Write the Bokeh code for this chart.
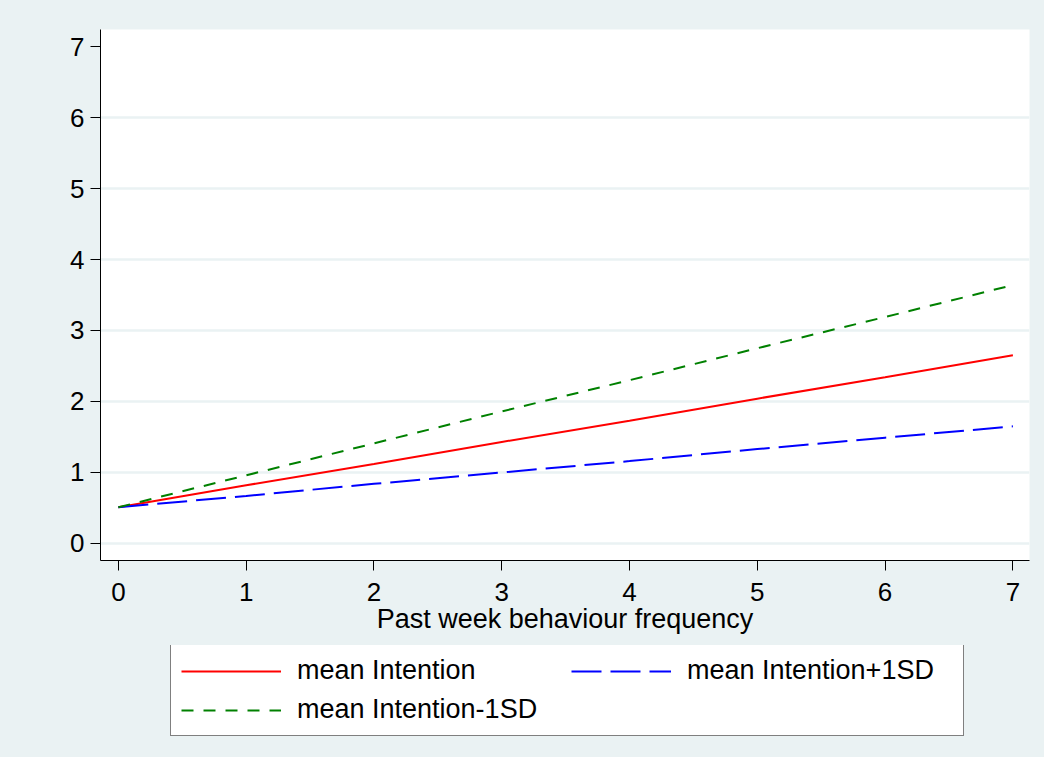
from bokeh.plotting import figure
from bokeh.models import Range1d, FixedTicker, Legend, LegendItem
from bokeh.layouts import column
from bokeh.embed import file_html
from bokeh.resources import INLINE

# Data
x_vals = [0, 1, 2, 3, 4, 5, 6, 7]
mean_int = [0.51, 0.82, 1.12, 1.43, 1.73, 2.04, 2.34, 2.65]
mean_int_plus = [0.51, 0.67, 0.84, 1.00, 1.16, 1.33, 1.49, 1.65]
mean_int_minus = [0.51, 0.96, 1.41, 1.86, 2.30, 2.75, 3.19, 3.64]
x_ticks = [0, 1, 2, 3, 4, 5, 6, 7]
y_ticks = [0, 1, 2, 3, 4, 5, 6, 7]
grid_ticks = [0, 1, 2, 3, 4, 5, 6]
x_title = "Past week behaviour frequency"
labels = ["mean Intention", "mean Intention+1SD", "mean Intention-1SD"]

FONT = "Liberation Sans"
BG = "#EAF2F3"
styles = [
    dict(line_color="#FF0000", line_width=2),
    dict(line_color="#0000FF", line_width=2, line_dash="30 9"),
    dict(line_color="#008000", line_width=2, line_dash="12 10"),
]
series = [mean_int, mean_int_plus, mean_int_minus]

# ---------------- main plot ----------------
p = figure(width=1044, height=645, output_backend="svg", toolbar_location=None,
           x_range=Range1d(-0.14, 7.13), y_range=Range1d(-0.24, 7.24),
           min_border_left=100, min_border_right=15, min_border_top=29,
           min_border_bottom=85)
p.background_fill_color = "white"
p.border_fill_color = BG
p.outline_line_color = None

p.xgrid.visible = False
p.ygrid.ticker = FixedTicker(ticks=grid_ticks)
p.ygrid.grid_line_color = BG
p.ygrid.grid_line_width = 2.5

for ax in (p.xaxis[0], p.yaxis[0]):
    ax.axis_line_color = "black"
    ax.axis_line_width = 1
    ax.major_tick_line_color = "black"
    ax.major_tick_in = 0
    ax.major_tick_out = 10
    ax.minor_tick_line_color = None
    ax.major_label_text_font = FONT
    ax.major_label_text_font_size = "26px"
    ax.major_label_text_color = "black"

p.xaxis.ticker = FixedTicker(ticks=x_ticks)
p.yaxis.ticker = FixedTicker(ticks=y_ticks)
p.yaxis.major_label_orientation = "horizontal"
p.xaxis.major_label_standoff = 12
p.yaxis.major_label_standoff = 6
p.xaxis.axis_label = x_title
p.xaxis.axis_label_text_font = FONT
p.xaxis.axis_label_text_font_size = "27px"
p.xaxis.axis_label_text_font_style = "normal"
p.xaxis.axis_label_text_color = "black"
p.xaxis.axis_label_standoff = 0

for ys, st in zip(series, styles):
    p.line(x_vals, ys, **st)

# ---------------- legend strip ----------------
q = figure(width=1044, height=112, output_backend="svg", toolbar_location=None,
           x_range=Range1d(0, 1), y_range=Range1d(100, 101),
           x_axis_location=None, y_axis_location=None,
           min_border_left=100, min_border_right=15, min_border_top=0,
           min_border_bottom=0)
q.background_fill_color = BG
q.border_fill_color = BG
q.outline_line_color = None
q.grid.visible = False
leg_r = [q.line(x_vals, ys, **st) for ys, st in zip(series, styles)]

legend = Legend(items=[
    LegendItem(label=labels[0], renderers=[leg_r[0]]),
    LegendItem(label=labels[2], renderers=[leg_r[2]]),
    LegendItem(label=labels[1], renderers=[leg_r[1]]),
], orientation="vertical", ncols=2, location=(70, 21))
legend.label_text_font = FONT
legend.label_text_font_size = "27px"
legend.label_text_color = "black"
legend.glyph_width = 100
legend.glyph_height = 30
legend.label_height = 30
legend.label_width = 266
legend.label_standoff = 16
legend.spacing = 8
legend.padding = 10
legend.margin = 0
legend.border_line_color = "black"
legend.border_line_width = 1
legend.background_fill_color = "white"
legend.background_fill_alpha = 1.0
q.add_layout(legend, "center")

layout = column(p, q, spacing=0, styles={"background-color": BG})
open("out.html", "w").write(file_html(layout, INLINE))
